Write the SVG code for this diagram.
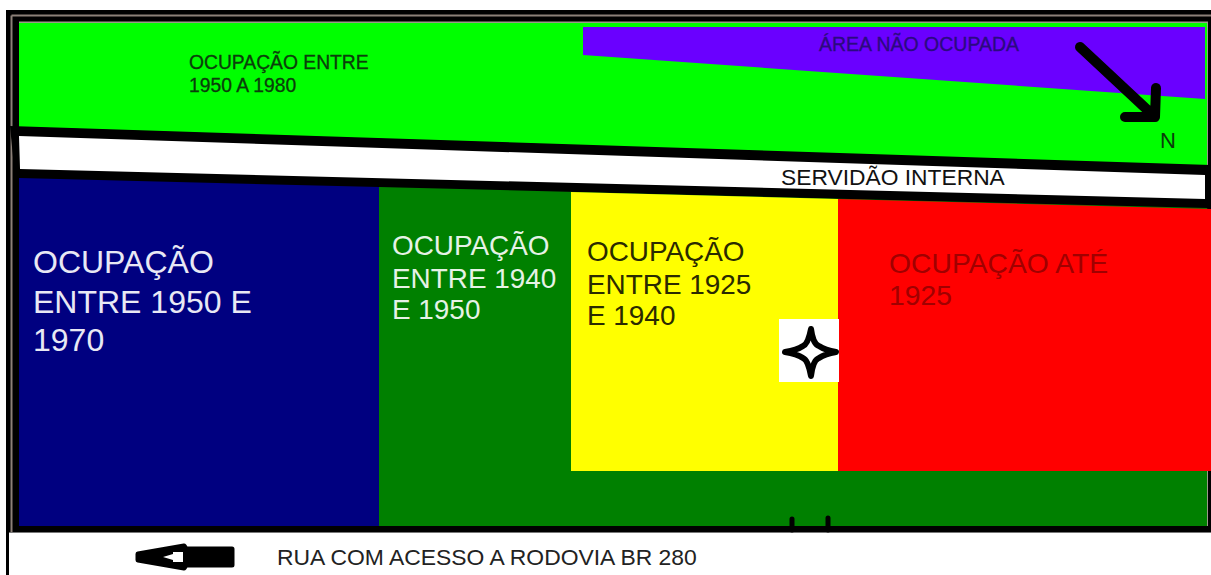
<svg xmlns="http://www.w3.org/2000/svg" width="1211" height="575" viewBox="0 0 1211 575">
<style>
text{font-family:"Liberation Sans",Arial,sans-serif}
.s{font-size:19.300px;fill:#0b3d0b;stroke:#0b3d0b;stroke-width:.3px}
.l{font-size:32px}
.m{font-size:27.900px}
.k{fill:none;stroke:#000;stroke-linecap:round;stroke-linejoin:round}
</style>
<rect width="1211" height="575" fill="#fff"/>
<g id="frame">
<rect x="6" y="10" width="1205" height="522" fill="#000"/>
<rect x="6" y="526" width="3" height="49" fill="#000"/>
<path d="M11.500 15.500H1211M11.500 15.500V532" fill="none" stroke="#8c8078" stroke-width="2"/>
<path d="M19 22.500H1207V526" fill="none" stroke="#9a9a8a" stroke-width="2"/>
<rect x="9" y="532" width="1202" height="1" fill="#777"/>
<rect x="9" y="533" width="1202" height="42" fill="#fff"/>
</g>
<g id="area-1950-1980">
<polygon points="19,23 1207,23 1207,166 19,127" fill="#00ff00"/>
<text class="s" x="189" y="69">OCUPAÇÃO ENTRE</text>
<text class="s" x="189" y="92">1950 A 1980</text>
</g>
<g id="area-nao-ocupada">
<polygon points="583,27 1205,27 1205,99 583,55" fill="#6a00ff"/>
<text x="819" y="51" font-size="19.500" fill="#2b0a80" stroke="#2b0a80" stroke-width=".3">ÁREA NÃO OCUPADA</text>
</g>
<g id="servidao">
<polygon points="10,126 1211,165 1211,209 15,178" fill="#000"/>
<polygon points="19,136 1205,175 1205,199 20,169" fill="#fff"/>
<text x="781" y="185" font-size="22.800" fill="#111">SERVIDÃO INTERNA</text>
</g>
<g id="area-1950-1970">
<polygon points="19,178 379,187 379,526 19,526" fill="#000080"/>
<text class="l" x="33" y="273" fill="#e8e8f4">OCUPAÇÃO</text>
<text class="l" x="33" y="313" fill="#e8e8f4">ENTRE 1950 E</text>
<text class="l" x="33" y="351" fill="#e8e8f4">1970</text>
</g>
<g id="area-1940-1950">
<polygon points="379,187 1207,208 1207,526 379,526" fill="#008000"/>
<text class="m" x="392" y="255" fill="#e6f2e6">OCUPAÇÃO</text>
<text class="m" x="392" y="288" fill="#e6f2e6">ENTRE 1940</text>
<text class="m" x="392" y="319" fill="#e6f2e6">E 1950</text>
</g>
<g id="area-1925-1940">
<polygon points="571,192 838,199 838,471 571,471" fill="#ffff00"/>
<text class="m" x="587" y="261" fill="#2a2a00">OCUPAÇÃO</text>
<text class="m" x="587" y="294" fill="#2a2a00">ENTRE 1925</text>
<text class="m" x="587" y="325" fill="#2a2a00">E 1940</text>
</g>
<g id="area-ate-1925">
<polygon points="838,199 1211,209 1211,471 838,471" fill="#ff0000"/>
<text x="889" y="273" font-size="28.300" fill="#a00000">OCUPAÇÃO ATÉ</text>
<text x="889" y="305" font-size="28.300" fill="#a00000">1925</text>
</g>
<g id="marker-star">
<rect x="779" y="319" width="60" height="63" fill="#fff"/>
<path class="k" stroke-width="6" d="M811 329Q813 344 819 346Q825 350 836 352Q825 354 819 358Q813 360 811 376Q808 360 803 358Q797 354 785 352Q797 350 803 346Q808 344 811 329Z"/>
</g>
<g id="north">
<path class="k" stroke-width="10" d="M1080 47L1155 117M1156 88L1155 117L1125 117"/>
<text x="1160" y="148" font-size="22" fill="#0b3d0b">N</text>
</g>
<g id="connectors">
<path class="k" stroke-width="5" d="M792 519V530M828 518V530"/>
</g>
<g id="road">
<path d="M138 554L184 546L186 549H232V565H186L184 568L138 560Z" fill="#000" stroke="#000" stroke-linejoin="round" stroke-width="5"/>
<path d="M163 557L173 554V552L183 552V562L173 562V560Z" fill="#fff"/>
<text x="277" y="565" font-size="22.900" fill="#222">RUA COM ACESSO A RODOVIA BR 280</text>
</g>
</svg>
